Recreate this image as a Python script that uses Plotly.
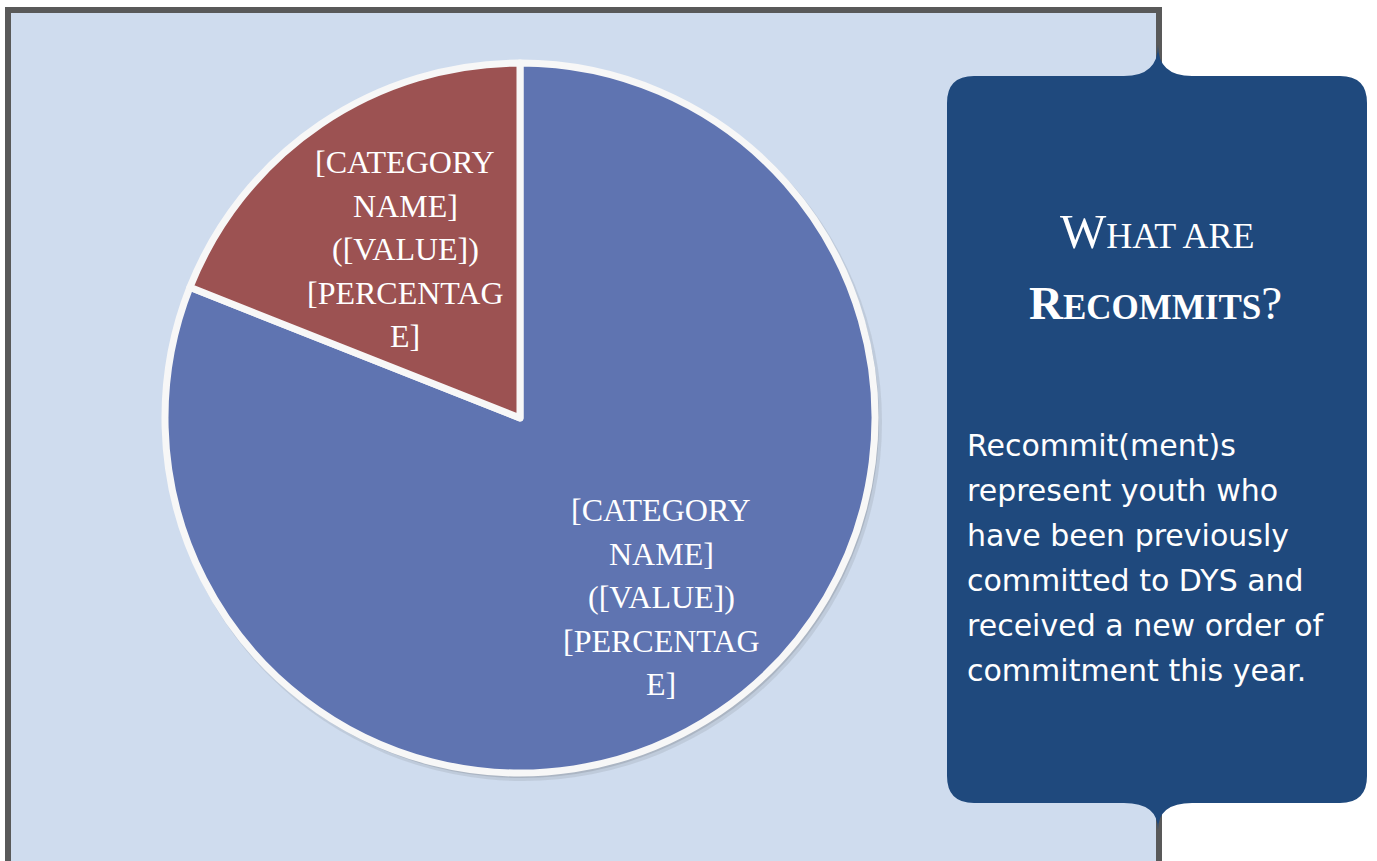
import plotly.graph_objects as go

W, H = 1377, 861

# --- data ---------------------------------------------------------------------------
categories = ["Other commitments", "Recommitments"]
values = [81, 19]
slice_colors = ["#5F74B1", "#9C5252"]
slice_label_lines = ["[CATEGORY", "NAME]", "([VALUE])", "[PERCENTAG", "E]"]

title_line1 = "W<span style='font-size:36px'>HAT ARE</span>"
title_line2 = "<b>R<span style='font-size:35px'>ECOMMITS</span></b>?"
body_lines = [
    "Recommit(ment)s",
    "represent youth who",
    "have been previously",
    "committed to DYS and",
    "received a new order of",
    "commitment this year.",
]

BG = "#CFDCEE"
FRAME = "#595959"
BOX = "#1F497D"


def px(x):
    return x / W


def py(y):
    return 1 - y / H


# pie geometry in page pixels
CX, CY, R = 520, 418, 355

fig = go.Figure()
fig.add_trace(
    go.Pie(
        labels=categories, values=values, sort=False, direction="clockwise", rotation=0,
        marker=dict(colors=slice_colors, line=dict(color="#F7F7F7", width=7)),
        textinfo="none", hoverinfo="label+value+percent", showlegend=False,
        domain=dict(x=[px(CX - R), px(CX + R)], y=[py(CY + R), py(CY - R)]),
    )
)

# --- background frame, pie shadow, info box ------------------------------------------
shapes = [
    dict(type="rect", xref="paper", yref="paper", x0=px(8), x1=px(1159), y0=py(10), y1=py(880),
         fillcolor=BG, line=dict(color=FRAME, width=6), layer="below"),
    dict(type="circle", xref="paper", yref="paper",
         x0=px(CX + 3 - R - 4), x1=px(CX + 3 + R + 4), y0=py(CY + 4 + R + 4), y1=py(CY + 4 - R - 4),
         fillcolor="rgba(60,60,60,0.10)", line=dict(width=0), layer="below"),
    dict(type="circle", xref="paper", yref="paper",
         x0=px(CX + 2 - R - 2), x1=px(CX + 2 + R + 2), y0=py(CY + 3 + R + 2), y1=py(CY + 3 - R - 2),
         fillcolor="rgba(60,60,60,0.15)", line=dict(width=0), layer="below"),
]

bx0, bx1, by0, by1, rc = 947, 1367, 76, 803, 27
nx, ntop, nbot, nw = 1158, 45, 830, 34


def P(x, y):
    return f"{px(x):.5f},{py(y):.5f}"


box_path = (
    f"M {P(bx0 + rc, by0)} L {P(nx - nw, by0)} Q {P(nx, by0)} {P(nx, ntop)} "
    f"Q {P(nx, by0)} {P(nx + nw, by0)} L {P(bx1 - rc, by0)} Q {P(bx1, by0)} {P(bx1, by0 + rc)} "
    f"L {P(bx1, by1 - rc)} Q {P(bx1, by1)} {P(bx1 - rc, by1)} L {P(nx + nw, by1)} "
    f"Q {P(nx, by1)} {P(nx, nbot)} Q {P(nx, by1)} {P(nx - nw, by1)} L {P(bx0 + rc, by1)} "
    f"Q {P(bx0, by1)} {P(bx0, by1 - rc)} L {P(bx0, by0 + rc)} Q {P(bx0, by0)} {P(bx0 + rc, by0)} Z"
)
shapes.append(dict(type="path", xref="paper", yref="paper", path=box_path,
                   fillcolor=BOX, line=dict(width=0), layer="below"))

# --- text ------------------------------------------------------------------------------
annotations = []
serif = "Liberation Serif"
for i, line in enumerate(slice_label_lines):
    annotations.append(dict(x=px(405), y=py(162 + i * 43.5), text=line, showarrow=False,
                            xref="paper", yref="paper", xanchor="center", yanchor="middle",
                            font=dict(family=serif, size=32, color="white")))
    annotations.append(dict(x=px(661), y=py(510 + i * 43.5), text=line, showarrow=False,
                            xref="paper", yref="paper", xanchor="center", yanchor="middle",
                            font=dict(family=serif, size=32, color="white")))

annotations.append(dict(x=px(1157), y=py(231), text=title_line1, showarrow=False,
                        xref="paper", yref="paper", xanchor="center", yanchor="middle",
                        font=dict(family=serif, size=49, color="white")))
annotations.append(dict(x=px(1155), y=py(303), text=title_line2, showarrow=False,
                        xref="paper", yref="paper", xanchor="center", yanchor="middle",
                        font=dict(family=serif, size=47, color="white")))

for i, line in enumerate(body_lines):
    annotations.append(dict(x=px(965), y=py(446 + i * 44.8), text=line, showarrow=False,
                            xref="paper", yref="paper", xanchor="left", yanchor="middle",
                            font=dict(family="DejaVu Sans", size=30, color="white")))

fig.update_layout(
    width=W, height=H, margin=dict(l=0, r=0, t=0, b=0),
    paper_bgcolor="white", plot_bgcolor="white",
    shapes=shapes, annotations=annotations,
)

fig.write_html("out.html", config={"displayModeBar": False},
               post_script="document.body.style.margin='0';")
